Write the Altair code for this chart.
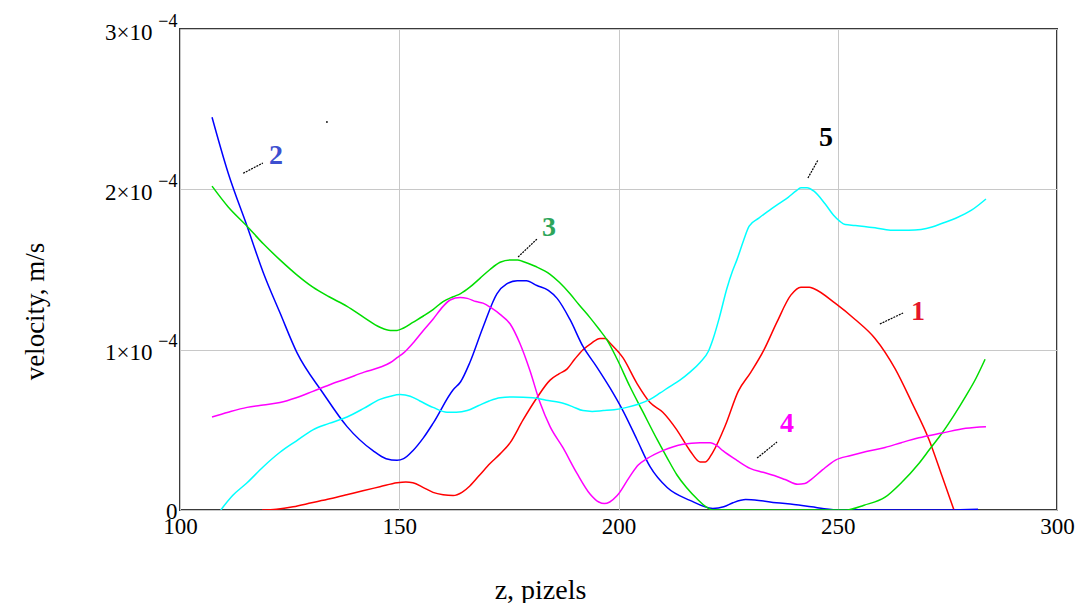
import json
import altair as alt
import pandas as pd

# ---------------- data (x in pixels-units "z", y in 1e-4 m/s) ----------------
red_x = [118.7, 122, 125.8, 130, 134.2, 138, 141.7, 145.6, 149.5, 151.5, 153.1, 155.5, 157.7, 160, 162.3,
         164.3, 166.1, 168.4, 170.7, 173, 175.3, 178.2, 181.4, 184.4, 186.5, 188.3, 190, 191.9, 193.8, 195.8,
         197, 198.1, 201.0, 204.2, 207.2, 210.1, 213.3, 216.3, 218.6, 219.8, 221.5, 224.4, 227.3, 230.2,
         233.2, 236.1, 239.3, 241.6, 243.5, 244.6, 249.4, 253.9, 258.5, 263.1, 266.9, 270.8, 273.8, 276.5]
red_y = [0, 0.005, 0.02, 0.045, 0.07, 0.095, 0.12, 0.145, 0.17, 0.175, 0.17, 0.14, 0.11, 0.095, 0.09,
         0.11, 0.15, 0.22, 0.29, 0.35, 0.42, 0.56, 0.70, 0.81, 0.85, 0.88, 0.94, 1.00, 1.04, 1.07,
         1.07, 1.04, 0.95, 0.79, 0.67, 0.61, 0.50, 0.37, 0.30, 0.30, 0.36, 0.53, 0.74, 0.86,
         1.00, 1.17, 1.34, 1.39, 1.39, 1.38, 1.29, 1.19, 1.07, 0.88, 0.67, 0.44, 0.21, 0]

blue_x = [107.3, 111, 115.3, 119, 122.8, 126.7, 132.6, 138.1, 144.0, 147, 149.5, 151, 153.1, 155.5, 157.7,
          162.3, 164, 166.1, 169.1, 172.3, 174.5, 176.9, 179, 181.4, 184, 186.0, 188.9, 191.9, 195.1, 198.1,
          201.0, 204.2, 207.2, 211.1, 216.3, 221.5, 224, 226.1, 229, 232, 236, 240, 244, 248, 250, 258, 275, 282]
blue_y = [2.45, 2.10, 1.77, 1.48, 1.23, 0.98, 0.73, 0.52, 0.37, 0.32, 0.31, 0.32, 0.37, 0.45, 0.54,
          0.75, 0.80, 0.92, 1.14, 1.35, 1.41, 1.43, 1.43, 1.40, 1.37, 1.32, 1.19, 1.02, 0.89, 0.76,
          0.62, 0.44, 0.27, 0.14, 0.06, 0.01, 0.02, 0.045, 0.065, 0.06, 0.045, 0.035, 0.02, 0.005, 0, 0, 0, 0.005]

green_x = [107.3, 111, 115.3, 119, 122.8, 126.5, 130.3, 134, 138.1, 142, 145.6, 148, 149.5, 151, 153.1,
           155.5, 157.7, 160, 162.3, 164, 166.1, 168.4, 170.7, 173, 175.3, 177, 178.2, 181, 184.4, 186.5,
           188.9, 191, 193.5, 195.5, 197.4, 199.7, 202.6, 205.6, 208.8, 211, 213.3, 215.5, 217.9, 220, 221.5,
           252, 256, 260.8, 264.5, 268.5, 271, 273.8, 276.5, 279.2, 281.5, 283.6]
green_y = [2.02, 1.89, 1.77, 1.66, 1.56, 1.47, 1.39, 1.33, 1.27, 1.20, 1.14, 1.12, 1.12, 1.135, 1.17,
           1.21, 1.25, 1.30, 1.33, 1.35, 1.39, 1.445, 1.50, 1.545, 1.56, 1.56, 1.55, 1.52, 1.47, 1.42,
           1.35, 1.28, 1.20, 1.13, 1.06, 0.94, 0.77, 0.61, 0.44, 0.33, 0.22, 0.14, 0.07, 0.02, 0,
           0, 0.03, 0.08, 0.17, 0.29, 0.38, 0.48, 0.59, 0.71, 0.82, 0.94]

magenta_x = [107.3, 111, 115.3, 119, 122.8, 126.5, 130.3, 134, 138.1, 142, 145.6, 148, 149.5, 151, 153.1,
             155.5, 157.7, 160, 161.6, 163.9, 165.5, 167.5, 169.1, 171, 173.0, 175.3, 177.5, 179.8, 182.1,
             184.4, 187.3, 190.5, 193.5, 195.5, 196.8, 198, 199.7, 202.6, 204.5, 206.5, 210.1, 214.7, 218.6,
             220.9, 222.5, 223.8, 227.0, 230.0, 233, 235.5, 238, 240.9, 242.5, 243.9, 246.5, 249.4, 253.0,
             256.5, 260.8, 264.5, 268.5, 273.8, 279.2, 283.8]
magenta_y = [0.58, 0.61, 0.64, 0.655, 0.67, 0.70, 0.74, 0.78, 0.82, 0.86, 0.89, 0.92, 0.95, 0.98, 1.04,
             1.12, 1.19, 1.27, 1.31, 1.325, 1.32, 1.30, 1.29, 1.26, 1.22, 1.16, 1.04, 0.87, 0.67,
             0.52, 0.39, 0.23, 0.10, 0.05, 0.04, 0.05, 0.09, 0.21, 0.28, 0.32, 0.37, 0.41, 0.42,
             0.42, 0.40, 0.37, 0.31, 0.26, 0.235, 0.215, 0.19, 0.16, 0.165, 0.19, 0.25, 0.31, 0.34,
             0.365, 0.39, 0.42, 0.45, 0.48, 0.51, 0.52]

cyan_x = [109.3, 112, 115.3, 119, 122.8, 126.5, 130.3, 134, 138.1, 142, 145.6, 148, 150.2, 152.5, 154.7,
          157.7, 160.9, 163, 165.5, 168, 170.5, 173, 176, 180.5, 183.5, 186.7, 189.5, 191.9, 194, 196.5,
          199, 201.9, 204.5, 207.2, 209.5, 211.7, 214, 216.3, 218.6, 220.5, 221.6, 223, 224.7, 226, 227.0,
          228.5, 229.8, 232, 233.9, 236.5, 238.7, 240.5, 241.6, 243, 244.5, 247.1, 249, 250.5, 251.7, 254,
          258.5, 262, 266.2, 269, 271.5, 274, 276.9, 280.5, 283.8]
cyan_y = [0, 0.09, 0.17, 0.27, 0.36, 0.43, 0.50, 0.54, 0.58, 0.635, 0.69, 0.71, 0.72, 0.71, 0.68,
          0.64, 0.61, 0.61, 0.62, 0.65, 0.68, 0.70, 0.705, 0.70, 0.685, 0.67, 0.645, 0.62, 0.615, 0.62,
          0.625, 0.64, 0.66, 0.69, 0.73, 0.77, 0.81, 0.86, 0.92, 0.99, 1.07, 1.20, 1.38, 1.49, 1.56,
          1.68, 1.77, 1.82, 1.86, 1.91, 1.95, 1.99, 2.01, 2.01, 1.99, 1.91, 1.84, 1.80, 1.78, 1.775,
          1.76, 1.745, 1.745, 1.75, 1.765, 1.79, 1.82, 1.87, 1.94]

series_names = ["1", "2", "3", "4", "5"]
series_colors = ["#ff0000", "#0000ff", "#00dd00", "#ff00ff", "#00ffff"]

# curve labels and leader lines (data units)
label_text = ["2", "3", "5", "1", "4"]
label_x = [121.9, 184.15, 247.3, 268.3, 238.4]
label_y = [2.21, 1.76, 2.32, 1.235, 0.536]
label_color = ["#3d4fd0", "#2da55a", "#000000", "#e5162a", "#ff00ff"]
leader_x = [114.4, 177.1, 243.2, 259.6, 231.6]
leader_y = [2.10, 1.578, 2.071, 1.160, 0.324]
leader_x2 = [118.9, 181.4, 245.5, 264.9, 236.15]
leader_y2 = [2.164, 1.690, 2.183, 1.229, 0.424]

dot_x = [133.5]
dot_y = [2.42]

x_ticks = [100, 150, 200, 250, 300]
y_ticks = [0, 1e-4, 2e-4, 3e-4]
y_tick_mantissa = ["", "1×10", "2×10", "3×10"]
y_tick_exponent = ["0", "−4", "−4", "−4"]

# ---------------- build tables ----------------
rows = []
for name, xs, ys in zip(series_names, [red_x, blue_x, green_x, magenta_x, cyan_x],
                        [red_y, blue_y, green_y, magenta_y, cyan_y]):
    for i, (a, b) in enumerate(zip(xs, ys)):
        rows.append({"series": name, "order": i, "z": a, "v": b * 1e-4})
df = pd.DataFrame(rows)

labels_df = pd.DataFrame({"text": label_text, "z": label_x, "v": [v * 1e-4 for v in label_y],
                          "color": label_color})
leaders_df = pd.DataFrame({"z": leader_x, "v": [v * 1e-4 for v in leader_y],
                           "z2": leader_x2, "v2": [v * 1e-4 for v in leader_y2]})
dot_df = pd.DataFrame({"z": dot_x, "v": [v * 1e-4 for v in dot_y]})

FONT = "Liberation Serif"

x_scale = alt.Scale(domain=[100, 300], nice=False, zero=False)
y_scale = alt.Scale(domain=[0, 3e-4], nice=False)

idx = "[round(datum.value*10000)]"
mant_expr = json.dumps(y_tick_mantissa, ensure_ascii=False) + idx
exp_expr = json.dumps(y_tick_exponent, ensure_ascii=False) + idx

x_axis = alt.Axis(values=x_ticks, grid=True, ticks=False, domain=False, labelFlush=False,
                  labelFont=FONT, labelFontSize=23, labelColor="#000000", labelPadding=5,
                  title="z, pizels", titleFont=FONT, titleFontSize=28, titleFontWeight="normal",
                  titleColor="#000000", titleX=360, titleY=88, titleBaseline="alphabetic",
                  titleAlign="center")
y_axis_main = alt.Axis(values=y_ticks, grid=True, ticks=False, domain=False, labelFlush=False,
                       labelExpr=mant_expr, labelFont=FONT, labelFontSize=23, labelColor="#000000",
                       labelPadding=28, labelBaseline="middle", labelOffset=3, orient="left",
                       title="velocity, m/s", titleFont=FONT, titleFontSize=27, titleFontWeight="normal",
                       titleColor="#000000", titleX=-145, titleY=282, titleAngle=-90,
                       titleBaseline="middle", titleAlign="center")
y_axis_exp = alt.Axis(values=y_ticks, grid=False, ticks=False, domain=False, labelFlush=False,
                      labelExpr=exp_expr, labelFont=FONT, labelColor="#000000",
                      labelFontSize={"condition": {"test": "datum.value == 0", "value": 23}, "value": 18},
                      labelOffset={"condition": {"test": "datum.value == 0", "value": 1}, "value": -8},
                      labelPadding=3, labelBaseline="middle", orient="left", title=None)

lines = alt.Chart(df).mark_line(strokeWidth=1.5, interpolate="monotone", clip=True).encode(
    x=alt.X("z:Q", scale=x_scale, axis=x_axis),
    y=alt.Y("v:Q", scale=y_scale, axis=y_axis_main),
    color=alt.Color("series:N", scale=alt.Scale(domain=series_names, range=series_colors), legend=None),
    order="order:Q",
    detail="series:N",
)

dot = alt.Chart(dot_df).mark_square(size=3, color="#000000", opacity=1).encode(
    x=alt.X("z:Q", scale=x_scale),
    y=alt.Y("v:Q", scale=y_scale, axis=y_axis_exp),
)

leaders = alt.Chart(leaders_df).mark_rule(color="#000000", strokeWidth=1.2, strokeDash=[2, 1]).encode(
    x=alt.X("z:Q", scale=x_scale),
    y=alt.Y("v:Q", scale=y_scale, axis=None),
    x2="z2:Q", y2="v2:Q"
)

texts = alt.Chart(labels_df).mark_text(font=FONT, fontSize=28, fontWeight="bold",
                                       align="center", baseline="middle").encode(
    x=alt.X("z:Q", scale=x_scale),
    y=alt.Y("v:Q", scale=y_scale, axis=None),
    text="text:N", color=alt.Color("color:N", scale=None)
)

chart = alt.layer(lines, dot, leaders, texts).resolve_axis(y="independent").properties(
    width=877, height=481,
    autosize=alt.AutoSizeParams(type="none"),
    padding={"left": 172, "top": 21, "right": 18, "bottom": 93},
    background="#ffffff",
).configure_view(
    stroke="#3a3a3a", strokeWidth=2
).configure_axis(
    gridColor="#c8c8c8", gridWidth=1, gridOpacity=1
)

chart.save("out.html", embed_options={"renderer": "svg", "actions": False})
